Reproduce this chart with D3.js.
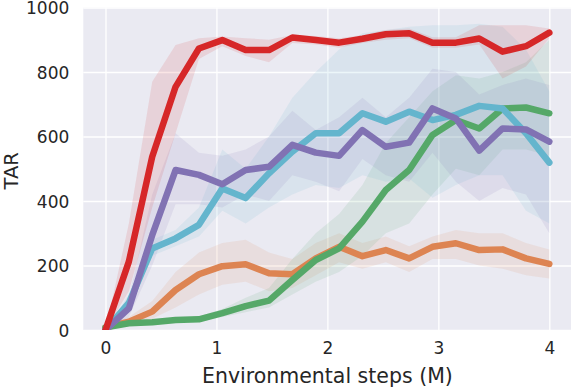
<!DOCTYPE html>
<html><head><meta charset="utf-8">
<script src="https://cdn.jsdelivr.net/npm/d3@7"></script>
<style>body{margin:0;background:#fff}svg{display:block}text{font-family:"DejaVu Sans",sans-serif;fill:#262626}</style>
</head><body><svg id="c" width="571" height="387"></svg>
<script>
const steps = d3.range(20).map(k => k * 4 / 19);
const xTicks = [0, 1, 2, 3, 4];
const yTicks = [0, 200, 400, 600, 800, 1000];

const orangeMean = [8, 26, 57, 124, 173, 198, 204, 176, 173, 222, 258, 229, 248, 222, 258, 269, 248, 250, 222, 205];
const orangeLow  = [0, 15, 35, 70, 110, 140, 150, 120, 130, 170, 210, 190, 210, 180, 220, 220, 200, 190, 170, 160];
const orangeHigh = [15, 40, 90, 180, 240, 270, 280, 240, 220, 270, 300, 270, 290, 260, 290, 310, 300, 300, 270, 250];

const greenMean = [8, 21, 24, 31, 33, 52, 74, 91, 155, 217, 253, 336, 434, 496, 605, 651, 625, 687, 690, 672];
const greenLow  = [0, 15, 18, 25, 25, 40, 55, 70, 110, 150, 180, 230, 300, 330, 420, 500, 480, 560, 560, 540];
const greenHigh = [10, 28, 32, 38, 42, 65, 100, 130, 220, 300, 360, 450, 580, 660, 740, 790, 780, 800, 830, 900];

const cyanMean = [0, 84, 253, 284, 326, 439, 409, 486, 553, 610, 610, 672, 646, 677, 651, 667, 695, 687, 610, 519];
const cyanLow  = [0, 60, 230, 260, 290, 370, 330, 380, 420, 450, 440, 480, 460, 470, 410, 450, 480, 480, 370, 330];
const cyanHigh = [0, 110, 280, 310, 380, 560, 500, 600, 720, 800, 870, 920, 930, 940, 945, 945, 950, 940, 870, 740];

const purpleMean = [0, 67, 294, 496, 481, 452, 496, 506, 574, 550, 540, 620, 568, 581, 687, 656, 556, 625, 622, 584];
const purpleLow  = [0, 40, 200, 390, 390, 380, 420, 400, 480, 460, 430, 530, 480, 460, 550, 460, 400, 440, 420, 300];
const purpleHigh = [0, 100, 420, 610, 550, 540, 560, 600, 680, 620, 660, 720, 660, 720, 810, 800, 730, 760, 780, 760];

const redMean = [0, 212, 537, 754, 873, 899, 868, 868, 907, 899, 891, 903, 917, 920, 891, 891, 904, 863, 880, 922];
const redLow  = [0, 120, 380, 610, 840, 880, 850, 830, 890, 885, 875, 890, 900, 905, 875, 875, 885, 780, 817, 905];
const redHigh = [0, 330, 770, 884, 905, 910, 905, 900, 915, 912, 905, 915, 930, 935, 908, 908, 945, 945, 945, 935];

const series = [
  {color: "#dd8452", mean: orangeMean, low: orangeLow, high: orangeHigh},
  {color: "#55a868", mean: greenMean, low: greenLow, high: greenHigh},
  {color: "#64b5cd", mean: cyanMean, low: cyanLow, high: cyanHigh},
  {color: "#8172b3", mean: purpleMean, low: purpleLow, high: purpleHigh},
  {color: "#d62728", mean: redMean, low: redLow, high: redHigh}
];

const svg = d3.select("#c");
const L = 83.3, R = 571.5, T = 7.5, B = 330;
const x = d3.scaleLinear().domain([-0.2, 4.2]).range([L, R]);
const y = d3.scaleLinear().domain([0, 1000]).range([B, T]);

svg.append("defs").append("clipPath").attr("id", "clip")
  .append("rect").attr("x", L).attr("y", T).attr("width", R - L).attr("height", B - T);

svg.append("rect").attr("x", L).attr("y", T).attr("width", R - L).attr("height", B - T).attr("fill", "#eaeaf2");

const xAxis = d3.axisBottom(x).tickValues(xTicks).tickFormat(d3.format("d")).tickSize(-(B - T)).tickPadding(12);
const gx = svg.append("g").attr("transform", `translate(0,${B})`).call(xAxis);
const yAxis = d3.axisLeft(y).tickValues(yTicks).tickFormat(d3.format("d")).tickSize(-(R - L)).tickPadding(14);
const gy = svg.append("g").attr("transform", `translate(${L},0)`).call(yAxis);
[gx, gy].forEach(g => {
  g.select(".domain").remove();
  g.selectAll(".tick line").attr("stroke", "#fff").attr("stroke-width", 1.3);
  g.selectAll(".tick text").attr("font-size", 17).style("fill", "#262626");
});
gy.selectAll(".tick text").attr("dy", "0.36em");

const plot = svg.append("g").attr("clip-path", "url(#clip)");
series.forEach(s => {
  const area = d3.area().x((d, i) => x(steps[i])).y0((d, i) => y(s.low[i])).y1((d, i) => y(s.high[i]));
  plot.append("path").datum(s.mean).attr("d", area).attr("fill", s.color).attr("fill-opacity", 0.12).attr("stroke", "none");
});
series.forEach(s => {
  const line = d3.line().x((d, i) => x(steps[i])).y(d => y(d));
  plot.append("path").datum(s.mean).attr("d", line).attr("fill", "none").attr("stroke", s.color)
    .attr("stroke-width", 6.5).attr("stroke-linejoin", "round").attr("stroke-linecap", "round");
});

svg.append("text").attr("x", (L + R) / 2).attr("y", 382.5).attr("text-anchor", "middle").attr("font-size", 20.5)
  .text("Environmental steps (M)");
svg.append("text").attr("transform", `translate(17.5,${(T + B) / 2 + 2}) rotate(-90)`).attr("text-anchor", "middle").attr("font-size", 19.5)
  .text("TAR");
</script></body></html>
